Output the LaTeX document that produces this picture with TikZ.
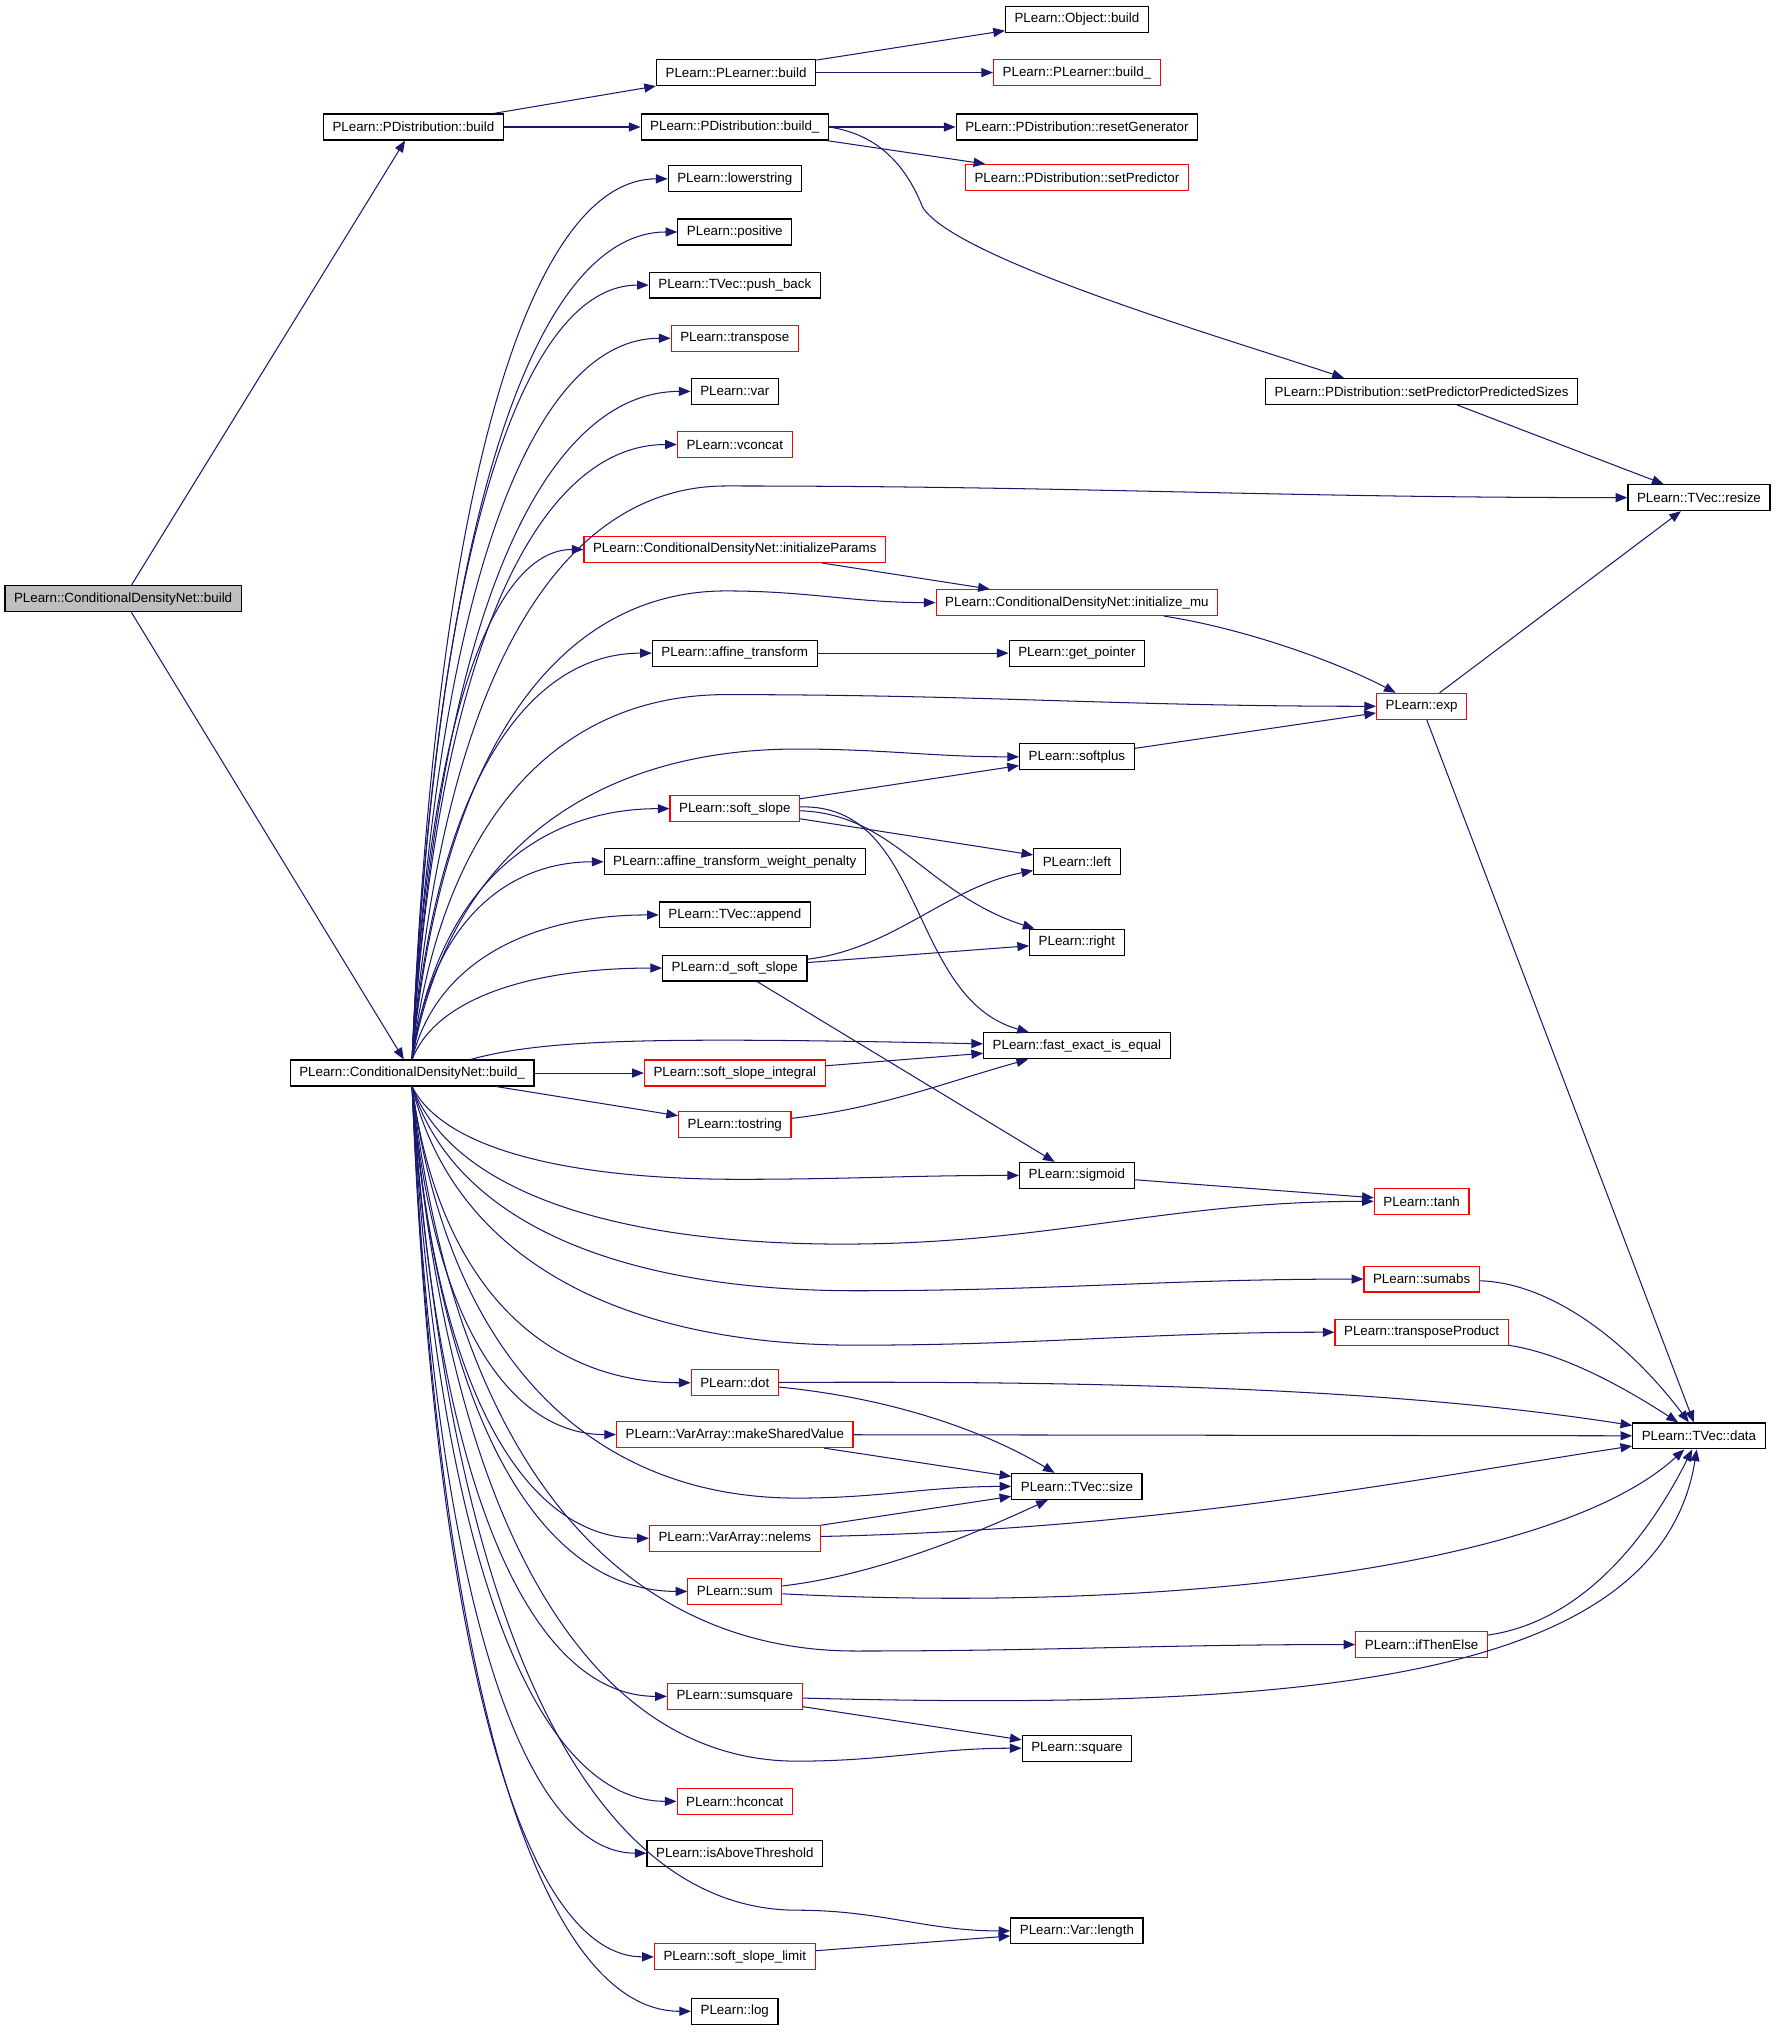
\documentclass[tikz,border=0pt]{standalone}
\usepackage{fontspec}
\setmainfont{Liberation Sans}
\usetikzlibrary{arrows.meta,calc}
\definecolor{edgeblue}{RGB}{25,25,112}

\begin{document}
\begin{tikzpicture}[x=1pt, y=-1pt,
	box/.style={draw=black, line width=0.9pt, minimum height=20pt, inner xsep=7pt, inner ysep=0pt, font=\fontsize{10.3}{12}\selectfont},
	redbox/.style={box, draw=red},
	edge/.style={draw=edgeblue, line width=0.8pt, -{Triangle[length=9pt,width=7pt]}}]

	\useasboundingbox (0,0) rectangle (1373,1568);

	% left two ranks
	\node[box, fill=black!25] (root) at (95,462) {PLearn::ConditionalDensityNet::build};
	\node[box] (pdbuild) at (319,98) {PLearn::PDistribution::build};
	\node[box] (cdnbuild) at (318,828) {PLearn::ConditionalDensityNet::build\_};

	% middle rank
	\node[box] (plbuild) at (568,56) {PLearn::PLearner::build};
	\node[box] (pdbuildu) at (567,98) {PLearn::PDistribution::build\_};
	\node[box] (lowerstring) at (567,138) {PLearn::lowerstring};
	\node[box] (positive) at (567,179) {PLearn::positive};
	\node[box] (pushback) at (567,220) {PLearn::TVec::push\_back};
	\node[redbox] (transpose) at (567,261) {PLearn::transpose};
	\node[box] (var) at (567,302) {PLearn::var};
	\node[redbox] (vconcat) at (567,343) {PLearn::vconcat};
	\node[redbox] (initparams) at (567,424) {PLearn::ConditionalDensityNet::initializeParams};
	\node[box] (affine) at (567,504) {PLearn::affine\_transform};
	\node[redbox] (softslope) at (567,624) {PLearn::soft\_slope};
	\node[box] (atwp) at (567,665) {PLearn::affine\_transform\_weight\_penalty};
	\node[box] (append) at (567,706) {PLearn::TVec::append};
	\node[box] (dsoftslope) at (567,747) {PLearn::d\_soft\_slope};
	\node[redbox] (ssi) at (567,828) {PLearn::soft\_slope\_integral};
	\node[redbox] (tostring) at (567,868) {PLearn::tostring};
	\node[redbox] (dot) at (567,1067) {PLearn::dot};
	\node[redbox] (msv) at (567,1107) {PLearn::VarArray::makeSharedValue};
	\node[redbox] (nelems) at (567,1187) {PLearn::VarArray::nelems};
	\node[redbox] (sum) at (567,1228) {PLearn::sum};
	\node[redbox] (sumsq) at (567,1309) {PLearn::sumsquare};
	\node[redbox] (hconcat) at (567,1390) {PLearn::hconcat};
	\node[box] (isabove) at (567,1430) {PLearn::isAboveThreshold};
	\node[redbox] (ssl) at (567,1510) {PLearn::soft\_slope\_limit};
	\node[box] (log) at (567,1552) {PLearn::log};

	% third rank
	\node[box] (objbuild) at (831,15) {PLearn::Object::build};
	\node[redbox] (plbuildu) at (831,56) {PLearn::PLearner::build\_};
	\node[box] (resetgen) at (831,98) {PLearn::PDistribution::resetGenerator};
	\node[redbox] (setpred) at (831,137) {PLearn::PDistribution::setPredictor};
	\node[redbox] (initmu) at (831,465) {PLearn::ConditionalDensityNet::initialize\_mu};
	\node[box] (getptr) at (831,504) {PLearn::get\_pointer};
	\node[box] (softplus) at (831,584) {PLearn::softplus};
	\node[box] (lft) at (831,665) {PLearn::left};
	\node[box] (rgt) at (831,727) {PLearn::right};
	\node[box] (fei) at (831,807) {PLearn::fast\_exact\_is\_equal};
	\node[box] (sigmoid) at (831,907) {PLearn::sigmoid};
	\node[box] (size) at (831,1147) {PLearn::TVec::size};
	\node[box] (square) at (831,1349) {PLearn::square};
	\node[box] (length) at (831,1490) {PLearn::Var::length};

	% right ranks
	\node[box] (setpps) at (1097,302) {PLearn::PDistribution::setPredictorPredictedSizes};
	\node[redbox] (exp) at (1097,545) {PLearn::exp};
	\node[redbox] (tanh) at (1097,927) {PLearn::tanh};
	\node[redbox] (sumabs) at (1097,987) {PLearn::sumabs};
	\node[redbox] (tprod) at (1097,1028) {PLearn::transposeProduct};
	\node[redbox] (ite) at (1097,1269) {PLearn::ifThenElse};
	\node[box] (resize) at (1311,384) {PLearn::TVec::resize};
	\node[box] (data) at (1311,1108) {PLearn::TVec::data};

	% calls from the root
	\draw[edge] (root) -- (pdbuild);
	\draw[edge] (root) -- (cdnbuild);
	\draw[edge] (pdbuild) -- (plbuild);
	\draw[edge] (pdbuild) -- (pdbuildu);
	\draw[edge] (plbuild) -- (objbuild);
	\draw[edge] (plbuild) -- (plbuildu);
	\draw[edge] (pdbuildu) -- (resetgen);
	\draw[edge] (pdbuildu) -- (setpred);
	\coordinate (spbend) at (712,160);
	\draw[edge] (pdbuildu.east) .. controls +(40,6) and +(-12,-30) .. (spbend)
		.. controls +(25,40) and +(-90,-30) .. ([xshift=-60pt]setpps.north);
	\draw[edge] (setpps) -- (resize);

	% fan of build_, upwards and downwards
	\foreach \t in {lowerstring,positive,pushback,transpose,var,vconcat,initparams,affine,softslope,atwp,append,dsoftslope}
		\draw[edge] let \p1=(cdnbuild.north), \p2=(\t.west) in
			(\p1) .. controls ({\x1+0.1*(\x2-\x1)},{\y1+0.7*(\y2-\y1)}) and ({\x1+0.5*(\x2-\x1)},\y2) .. (\p2);
	\foreach \t in {dot,msv,nelems,sum,sumsq,hconcat,isabove,ssl,log}
		\draw[edge] let \p1=(cdnbuild.south), \p2=(\t.west) in
			(\p1) .. controls ({\x1+0.1*(\x2-\x1)},{\y1+0.7*(\y2-\y1)}) and ({\x1+0.5*(\x2-\x1)},\y2) .. (\p2);
	\foreach \t/\wx/\wy in {resize/560/375,initmu/560/456,exp/560/536,softplus/615/578}
		\draw[edge] let \p1=(cdnbuild.north), \p2=(\wx,\wy) in
			(\p1) .. controls ({\x1+0.1*(\x2-\x1)},{\y1+0.7*(\y2-\y1)}) and ({\x1+0.5*(\x2-\x1)},\y2) .. (\p2)
			to[out=0,in=180] (\t);
	\foreach \t/\wx/\wy in {sigmoid/570/910,tanh/650/960,sumabs/660/996,tprod/660/1038,size/615/1156,ite/660/1274,square/615/1359,length/615/1474}
		\draw[edge] let \p1=(cdnbuild.south), \p2=(\wx,\wy) in
			(\p1) .. controls ({\x1+0.1*(\x2-\x1)},{\y1+0.7*(\y2-\y1)}) and ({\x1+0.5*(\x2-\x1)},\y2) .. (\p2)
			to[out=0,in=180] (\t);
	\draw[edge] ([xshift=45pt]cdnbuild.north) .. controls (420,802) and (500,800) .. (fei);
	\draw[edge] (cdnbuild) -- (ssi);
	\draw[edge] (cdnbuild) -- (tostring);

	% calls between the callees
	\draw[edge] (initparams) -- (initmu);
	\draw[edge] (initmu) .. controls (960,485) and (1030,510) .. (exp);
	\draw[edge] (affine) -- (getptr);
	\draw[edge] (exp) -- (resize);
	\draw[edge] (exp) -- (data);
	\draw[edge] (softplus) -- (exp);
	\draw[edge] (softslope) -- (softplus);
	\draw[edge] (softslope) -- (lft);
	\draw[edge] (softslope) .. controls (690,628) and (715,690) .. (rgt);
	\draw[edge] (softslope) .. controls (715,620) and (700,770) .. (fei);
	\draw[edge] (dsoftslope) .. controls (690,732) and (730,685) .. (lft);
	\draw[edge] (dsoftslope) -- (rgt);
	\draw[edge] (dsoftslope) -- (sigmoid);
	\draw[edge] (ssi) -- (fei);
	\draw[edge] (tostring) .. controls (680,855) and (730,835) .. (fei);
	\draw[edge] (sigmoid) -- (tanh);
	\draw[edge] (sumabs) .. controls (1200,990) and (1260,1040) .. (data);
	\draw[edge] (tprod) .. controls (1210,1045) and (1260,1075) .. (data);
	\draw[edge] (dot) .. controls (900,1065) and (1100,1075) .. (data);
	\draw[edge] (dot) .. controls (700,1080) and (770,1110) .. (size);
	\draw[edge] (msv) -- (data);
	\draw[edge] (msv) -- (size);
	\draw[edge] (nelems) -- (size);
	\draw[edge] (nelems) .. controls (900,1180) and (1100,1140) .. (data);
	\draw[edge] (sum) .. controls (680,1215) and (760,1180) .. (size);
	\draw[edge] (sum) .. controls (900,1245) and (1200,1210) .. (data);
	\draw[edge] (ite) .. controls (1230,1250) and (1280,1170) .. (data);
	\draw[edge] (sumsq) .. controls (1000,1320) and (1280,1300) .. (data);
	\draw[edge] (sumsq) -- (square);
	\draw[edge] (ssl) -- (length);

\end{tikzpicture}
\end{document}
